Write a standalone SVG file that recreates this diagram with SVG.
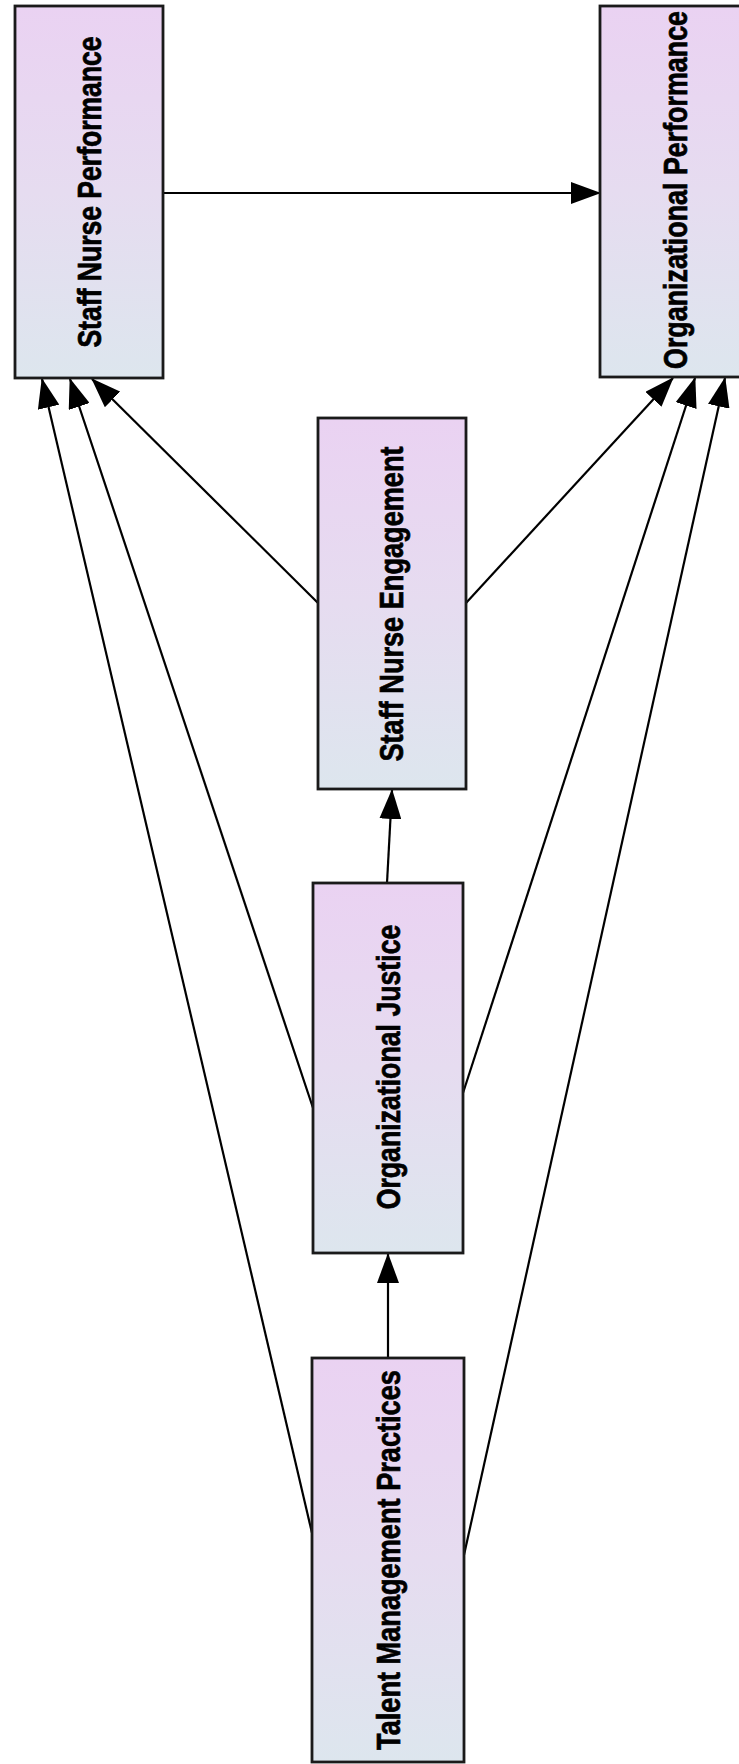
<svg xmlns="http://www.w3.org/2000/svg" width="739" height="1764" viewBox="0 0 739 1764">
  <defs>
    <linearGradient id="boxFill" x1="0" y1="0" x2="0" y2="1">
      <stop offset="0" stop-color="#ead2f2"/>
      <stop offset="0.5" stop-color="#e6dcf0"/>
      <stop offset="1" stop-color="#dde6ee"/>
    </linearGradient>
    <marker id="arrow" markerUnits="userSpaceOnUse" markerWidth="30" markerHeight="22" refX="29" refY="11" orient="auto">
      <path d="M0,0 L30,11 L0,22 z" fill="#000"/>
    </marker>
    <style>
      .box { fill: url(#boxFill); stroke: #1a1a1a; stroke-width: 2.8; }
      .label { font-family: "Liberation Sans", Arial, sans-serif; font-weight: bold; font-size: 34px; fill: #000; stroke: #000; stroke-width: 0.7; text-anchor: middle; }
      .edge { stroke: #000; stroke-width: 2.2; fill: none; marker-end: url(#arrow); }
    </style>
  </defs>
  <rect width="739" height="1764" fill="#fff"/>

  <g id="connectors">
    <line class="edge" x1="163" y1="193" x2="600" y2="193"/>
    <line class="edge" x1="387" y1="883" x2="392" y2="790"/>
    <line class="edge" x1="388" y1="1358" x2="388" y2="1254"/>
    <line class="edge" x1="312" y1="1533" x2="42" y2="379"/>
    <line class="edge" x1="313" y1="1108" x2="70" y2="379"/>
    <line class="edge" x1="318" y1="603" x2="92" y2="379"/>
    <line class="edge" x1="466" y1="603" x2="673" y2="378"/>
    <line class="edge" x1="463" y1="1093" x2="695" y2="378"/>
    <line class="edge" x1="464" y1="1555" x2="725" y2="378"/>
  </g>

  <!-- labels read bottom-to-top; scale(0.78,1) narrows the glyphs along the text direction -->
  <g id="staff-nurse-performance">
    <rect class="box" x="15" y="6" width="148" height="372"/>
    <text class="label" transform="translate(89,192) rotate(-90) scale(0.78,1)" dy="0.36em" textLength="399" lengthAdjust="spacingAndGlyphs">Staff Nurse Performance</text>
  </g>

  <g id="organizational-performance">
    <rect class="box" x="600" y="6" width="150" height="371"/>
    <text class="label" transform="translate(675,190) rotate(-90) scale(0.78,1)" dy="0.36em" textLength="459" lengthAdjust="spacingAndGlyphs">Organizational Performance</text>
  </g>

  <g id="staff-nurse-engagement">
    <rect class="box" x="318" y="418" width="148" height="371"/>
    <text class="label" transform="translate(391,604) rotate(-90) scale(0.78,1)" dy="0.36em" textLength="404" lengthAdjust="spacingAndGlyphs">Staff Nurse Engagement</text>
  </g>

  <g id="organizational-justice">
    <rect class="box" x="313" y="883" width="150" height="370"/>
    <text class="label" transform="translate(388,1067) rotate(-90) scale(0.78,1)" dy="0.36em" textLength="365" lengthAdjust="spacingAndGlyphs">Organizational Justice</text>
  </g>

  <g id="talent-management-practices">
    <rect class="box" x="312" y="1358" width="152" height="404"/>
    <text class="label" transform="translate(388,1560) rotate(-90) scale(0.78,1)" dy="0.36em" textLength="487" lengthAdjust="spacingAndGlyphs">Talent Management Practices</text>
  </g>
</svg>
